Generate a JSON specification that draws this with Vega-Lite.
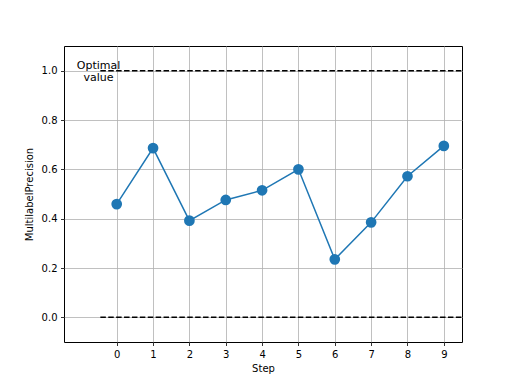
{
  "$schema": "https://vega.github.io/schema/vega-lite/v6.json",
  "autosize": "none",
  "width": 398,
  "height": 296,
  "padding": {"left": 64, "top": 46, "right": 50, "bottom": 42},
  "background": "white",
  "config": {
    "font": "DejaVu Sans",
    "view": {"stroke": "black", "strokeWidth": 1},
    "axis": {
      "labelFont": "DejaVu Sans", "labelFontSize": 10, "labelColor": "black",
      "titleFont": "DejaVu Sans", "titleFontSize": 10, "titleFontWeight": "normal", "titleColor": "black",
      "domain": false, "tickColor": "black", "tickSize": 3.5, "tickWidth": 0.8,
      "gridColor": "#b0b0b0", "gridWidth": 0.8, "gridOpacity": 1, "labelPadding": 3.5
    },
    "axisY": {"titlePadding": 7}
  },
  "datasets": {
    "pts": [
      {"Step": 0, "MultilabelPrecision": 0.459},
      {"Step": 1, "MultilabelPrecision": 0.686},
      {"Step": 2, "MultilabelPrecision": 0.392},
      {"Step": 3, "MultilabelPrecision": 0.476},
      {"Step": 4, "MultilabelPrecision": 0.515},
      {"Step": 5, "MultilabelPrecision": 0.600},
      {"Step": 6, "MultilabelPrecision": 0.235},
      {"Step": 7, "MultilabelPrecision": 0.385},
      {"Step": 8, "MultilabelPrecision": 0.572},
      {"Step": 9, "MultilabelPrecision": 0.695}
    ],
    "refs": [
      {"y": 1.0, "x": -0.45, "x2": 9.5},
      {"y": 0.0, "x": -0.45, "x2": 9.5}
    ],
    "label": [
      {"x": -0.5, "y": 1.0, "t": "Optimal\n  value"}
    ]
  },
  "layer": [
    {
      "data": {"name": "refs"},
      "mark": {"type": "rule", "color": "black", "strokeWidth": 1.5, "strokeDash": [5.5, 2.4], "clip": true},
      "encoding": {
        "x": {"field": "x", "type": "quantitative",
              "scale": {"domain": [-1.45, 9.5], "nice": false, "zero": false},
              "axis": {"values": [0,1,2,3,4,5,6,7,8,9], "title": "Step", "grid": true, "format": "d"}},
        "x2": {"field": "x2"},
        "y": {"field": "y", "type": "quantitative",
              "scale": {"domain": [-0.1, 1.1], "nice": false, "zero": false},
              "axis": {"values": [0, 0.2, 0.4, 0.6, 0.8, 1.0], "format": ".1f", "title": "MultilabelPrecision", "grid": true}}
      }
    },
    {
      "data": {"name": "pts"},
      "mark": {"type": "line", "color": "#1f77b4", "strokeWidth": 1.5},
      "encoding": {
        "x": {"field": "Step", "type": "quantitative"},
        "y": {"field": "MultilabelPrecision", "type": "quantitative"}
      }
    },
    {
      "data": {"name": "pts"},
      "mark": {"type": "point", "filled": true, "color": "#1f77b4", "opacity": 1, "size": 115},
      "encoding": {
        "x": {"field": "Step", "type": "quantitative"},
        "y": {"field": "MultilabelPrecision", "type": "quantitative"}
      }
    },
    {
      "data": {"name": "label"},
      "mark": {"type": "text", "align": "center", "baseline": "middle", "lineBreak": "\n", "fontSize": 11, "color": "black", "font": "DejaVu Sans", "lineHeight": 12, "dy": -5},
      "encoding": {
        "x": {"field": "x", "type": "quantitative"},
        "y": {"field": "y", "type": "quantitative"},
        "text": {"field": "t"}
      }
    }
  ]
}
